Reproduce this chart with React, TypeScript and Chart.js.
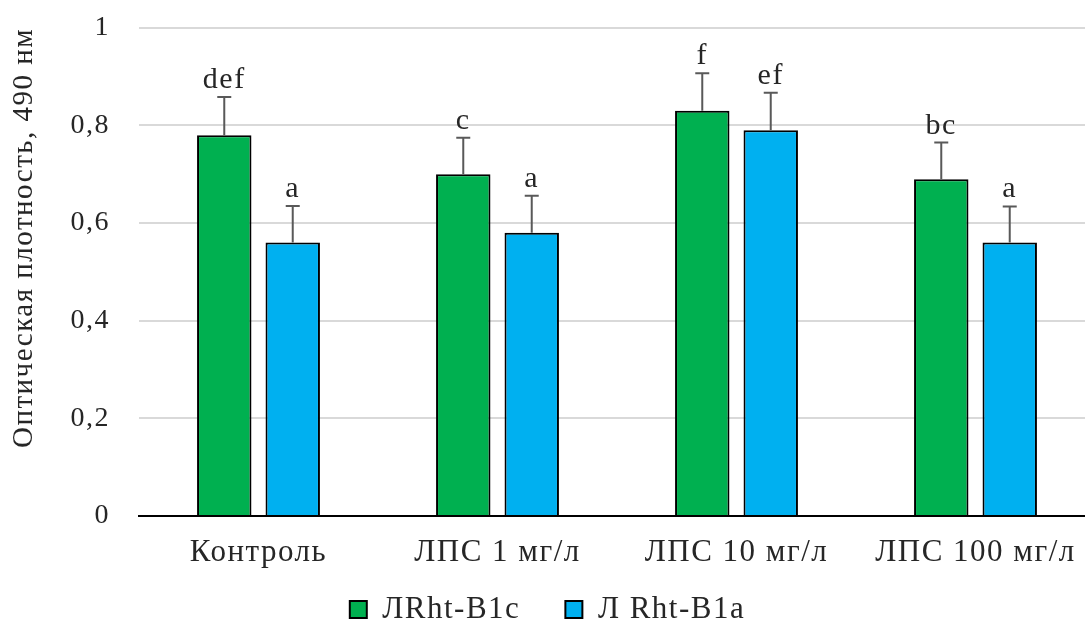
import React, { useEffect, useRef } from "react";
import { Chart, registerables } from "chart.js";

Chart.register(...registerables);

const categories = ["Контроль", "ЛПС 1 мг/л", "ЛПС 10 мг/л", "ЛПС 100 мг/л"];
const seriesNames = ["ЛRht-B1c", "Л Rht-B1a"];
const greenValues = [0.78, 0.70, 0.83, 0.69];
const blueValues = [0.56, 0.58, 0.79, 0.56];
const greenErrors = [0.078, 0.075, 0.077, 0.075];
const blueErrors = [0.075, 0.076, 0.077, 0.074];
const greenLetters = ["def", "c", "f", "bc"];
const blueLetters = ["a", "a", "ef", "a"];
const yTicks = [0, 0.2, 0.4, 0.6, 0.8, 1];
const yTitle = "Оптическая плотность, 490 нм";

const FONT = "'Liberation Serif', 'Times New Roman', serif";
const TEXT = "#262626";
const SPACING = "1.5px";
const CANVAS_W = 1095;
const CANVAS_H = 635;
const PLOT_BOTTOM = 516;

export default function App() {
  const ref = useRef<HTMLCanvasElement | null>(null);
  useEffect(() => {
    if (!ref.current) return;
    const errs = [greenErrors, blueErrors];
    const letters = [greenLetters, blueLetters];
    const setSpacing = (chart: any) => {
      try {
        chart.ctx.letterSpacing = SPACING;
      } catch (e) {}
    };
    const spacingPlugin = {
      id: "spacing",
      afterInit: setSpacing,
      beforeUpdate: setSpacing,
      beforeLayout: setSpacing,
      beforeDraw: setSpacing,
    };
    const errPlugin = {
      id: "errbars",
      afterDatasetsDraw(chart: any) {
        const ctx = chart.ctx;
        const y = chart.scales.y;
        ctx.save();
        chart.data.datasets.forEach((ds: any, di: number) => {
          const meta = chart.getDatasetMeta(di);
          meta.data.forEach((bar: any, i: number) => {
            const v = ds.data[i];
            const top = y.getPixelForValue(v + errs[di][i]);
            const base = y.getPixelForValue(v);
            ctx.strokeStyle = "#595959";
            ctx.lineWidth = 2;
            ctx.beginPath();
            ctx.moveTo(bar.x, base);
            ctx.lineTo(bar.x, top);
            ctx.moveTo(bar.x - 7, top);
            ctx.lineTo(bar.x + 7, top);
            ctx.stroke();
            ctx.fillStyle = TEXT;
            ctx.font = `30px ${FONT}`;
            ctx.textAlign = "center";
            ctx.textBaseline = "alphabetic";
            ctx.fillText(letters[di][i], bar.x, top - 9);
          });
        });
        ctx.restore();
      },
    };
    const chart = new Chart(ref.current, {
      type: "bar",
      data: {
        labels: categories,
        datasets: [
          {
            label: seriesNames[0],
            data: greenValues,
            backgroundColor: "#00b050",
            borderColor: "#000000",
            borderWidth: 2,
            categoryPercentage: 0.573,
            barPercentage: 0.795,
          },
          {
            label: seriesNames[1],
            data: blueValues,
            backgroundColor: "#00b0f0",
            borderColor: "#000000",
            borderWidth: 2,
            categoryPercentage: 0.573,
            barPercentage: 0.795,
          },
        ],
      },
      options: {
        responsive: false,
        animation: false,
        layout: { padding: { top: 11, right: 0, bottom: 0, left: 0 } },
        plugins: {
          tooltip: { enabled: false },
          legend: {
            position: "bottom",
            labels: {
              boxWidth: 17,
              boxHeight: 17,
              padding: 45,
              color: TEXT,
              font: { family: FONT, size: 31 },
            },
          },
        },
        scales: {
          x: {
            grid: { display: false, drawTicks: false },
            border: { color: "#000000", width: 2 },
            ticks: { color: TEXT, padding: 18, font: { family: FONT, size: 31 } },
            afterFit(scale: any) {
              const lh = scale.chart.legend ? scale.chart.legend.height : 86;
              scale.height = CANVAS_H - PLOT_BOTTOM - lh;
              // let the category labels extend below the (short) axis box
              scale._computeLabelArea = () => undefined;
            },
          },
          y: {
            min: 0,
            max: 1,
            afterBuildTicks(scale: any) {
              scale.ticks = yTicks.map((v) => ({ value: v }));
            },
            grid: {
              color: "#d9d9d9",
              lineWidth: 2,
              drawTicks: true,
              tickLength: 18,
              tickColor: "rgba(0,0,0,0)",
            },
            border: { display: false },
            ticks: {
              color: TEXT,
              padding: 11,
              font: { family: FONT, size: 28 },
              callback: (v: any) => String(v).replace(".", ","),
            },
            title: {
              display: true,
              text: yTitle,
              align: "end",
              color: TEXT,
              font: { family: FONT, size: 29 },
              padding: { top: 7, bottom: 0 },
            },
            afterFit(scale: any) {
              scale.width = 139;
            },
          },
        },
      },
      plugins: [spacingPlugin, errPlugin],
    });
    return () => chart.destroy();
  }, []);
  return (
    <div
      style={{
        position: "absolute",
        left: 0,
        top: 0,
        width: 1085,
        height: 622,
        overflow: "hidden",
        background: "#fff",
      }}
    >
      <canvas ref={ref} width={CANVAS_W} height={CANVAS_H} style={{ display: "block" }} />
    </div>
  );
}
